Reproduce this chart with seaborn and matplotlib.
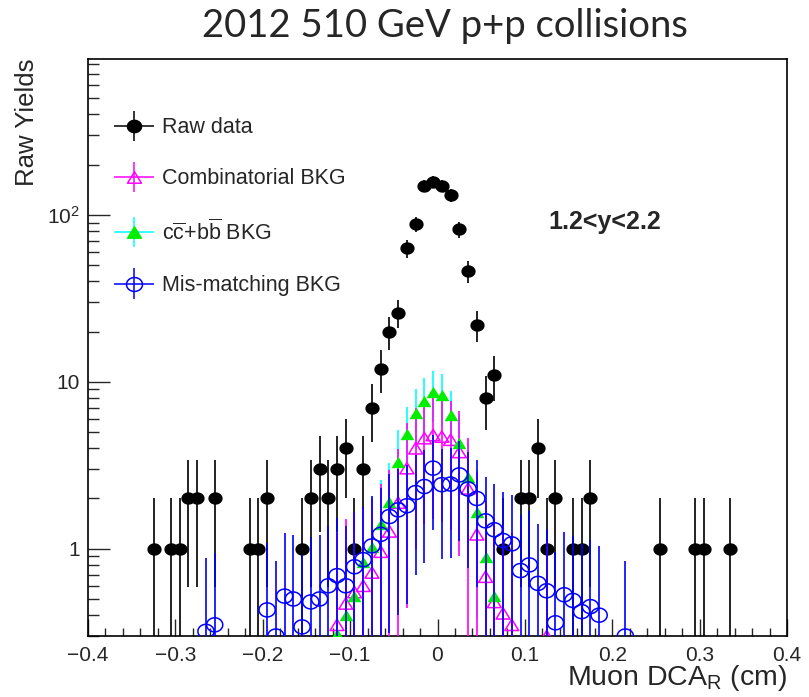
import numpy as np
import matplotlib
matplotlib.use("Agg")
import matplotlib.pyplot as plt
import seaborn as sns
from matplotlib.path import Path
from matplotlib.markers import MarkerStyle
from matplotlib.container import ErrorbarContainer
from matplotlib.legend_handler import HandlerErrorbar
from matplotlib import ticker

# ---------------- data ----------------
raw_x = [-0.325, -0.305, -0.295, -0.285, -0.275, -0.255, -0.215, -0.205, -0.195,
         -0.155, -0.145, -0.135, -0.125, -0.115, -0.105, -0.095, -0.085, -0.075,
         -0.065, -0.055, -0.045, -0.035, -0.025, -0.015, -0.005, 0.005, 0.015,
         0.025, 0.035, 0.045, 0.055, 0.065, 0.075, 0.095, 0.105, 0.115, 0.125,
         0.135, 0.155, 0.165, 0.175, 0.255, 0.295, 0.305, 0.335]
raw_y = [1, 1, 1, 2, 2, 2, 1, 1, 2,
         1, 2, 3, 2, 3, 4, 1, 3, 7,
         12, 20, 26, 63, 88, 149, 158, 149, 131,
         82, 46, 22, 8, 11, 1, 2, 2, 4, 1,
         2, 1, 1, 2, 1, 1, 1, 1]

comb_x = [-0.115, -0.105, -0.095, -0.085, -0.075, -0.065, -0.055, -0.045, -0.035,
          -0.025, -0.015, -0.005, 0.005, 0.015, 0.025, 0.035, 0.045, 0.055, 0.065,
          0.075, 0.085, 0.125]
comb_y = [0.35, 0.47, 0.55, 0.60, 0.72, 0.96, 1.27, 1.89, 3.04,
          4.0, 4.6, 4.8, 4.7, 4.5, 3.8, 2.3, 1.22, 0.68, 0.48,
          0.41, 0.35, 0.30]
comb_err = [0.89, 1.03, 1.10, 1.16, 1.27, 1.47, 1.69, 2.06, 2.6,
            3.0, 3.2, 3.3, 3.25, 3.2, 2.9, 2.3, 1.66, 1.24, 1.04,
            0.96, 0.89, 0.82]

hf_x = [-0.115, -0.105, -0.095, -0.085, -0.075, -0.065, -0.055, -0.045, -0.035,
        -0.025, -0.015, -0.005, 0.005, 0.015, 0.025, 0.035, 0.045, 0.055, 0.065]
hf_y = [0.31, 0.40, 0.52, 0.83, 1.03, 1.40, 1.9, 3.3, 4.9,
        6.5, 7.7, 8.7, 8.3, 6.3, 4.3, 2.7, 1.67, 0.89, 0.52]

mis_x = [-0.265, -0.255, -0.195, -0.185, -0.175, -0.165, -0.155, -0.145, -0.135,
         -0.125, -0.115, -0.105, -0.095, -0.085, -0.075, -0.065, -0.055, -0.045,
         -0.035, -0.025, -0.015, -0.005, 0.005, 0.015, 0.025, 0.035, 0.045,
         0.055, 0.065, 0.075, 0.085, 0.095, 0.105, 0.115, 0.125, 0.135, 0.145,
         0.155, 0.165, 0.175, 0.185, 0.215]
mis_y = [0.32, 0.35, 0.43, 0.30, 0.52, 0.50, 0.34, 0.48, 0.50,
         0.60, 0.69, 0.60, 0.78, 0.86, 1.04, 1.22, 1.56, 1.71,
         1.81, 2.17, 2.36, 3.04, 2.42, 2.44, 2.77, 2.28, 2.0,
         1.47, 1.30, 1.12, 1.07, 0.74, 0.80, 0.62, 0.56, 0.36, 0.53,
         0.49, 0.42, 0.45, 0.40, 0.30]

labels = ["Raw data", "Combinatorial BKG",
          r"$\mathrm{c\overline{c}{+}b\overline{b}}$ BKG", "Mis-matching BKG"]
title = "2012 510 GeV p+p collisions"
rap_text = "1.2<y<2.2"

# ---------------- style ----------------
sns.set_style("ticks")
plt.rcParams["font.family"] = ["Liberation Sans", "DejaVu Sans"]
plt.rcParams["mathtext.fontset"] = "custom"
plt.rcParams["mathtext.rm"] = "Liberation Sans"
plt.rcParams["mathtext.it"] = "Liberation Sans:italic"
plt.rcParams["mathtext.bf"] = "Liberation Sans:bold"

# slightly wide markers (reference is stretched horizontally)
t = np.linspace(0, 2 * np.pi, 65)
ell = MarkerStyle(Path(np.c_[1.15 * np.cos(t), np.sin(t)], closed=True))
tri = MarkerStyle(Path([(0, 0.82), (-1, -0.82), (1, -0.82), (0, 0.82)], closed=True))

fig = plt.figure(figsize=(8.09, 6.97), dpi=100)
ax = fig.add_axes([88 / 809, 1 - 636 / 697, (787 - 88) / 809, (636 - 59) / 697])
ax.set_yscale("log")

# Raw data
ax.errorbar(raw_x, raw_y, yerr=np.sqrt(raw_y), fmt="none", ecolor="#111111",
            elinewidth=1.3, capsize=0, zorder=2)
sns.scatterplot(x=raw_x, y=raw_y, ax=ax, marker=ell, s=105, color="black",
                edgecolor="black", linewidth=0, zorder=3)

# c cbar + b bbar error bars (cyan)
ax.errorbar(hf_x, hf_y, yerr=np.sqrt(hf_y), fmt="none", ecolor="cyan",
            elinewidth=1.2, capsize=0, zorder=4)
# Combinatorial
ax.errorbar(comb_x, comb_y, yerr=comb_err, fmt="none", ecolor="magenta",
            elinewidth=1.2, capsize=0, zorder=5)
sns.scatterplot(x=comb_x, y=comb_y, ax=ax, marker=tri, s=100,
                facecolors="none", edgecolors="magenta", linewidths=1.1, zorder=6)
sns.scatterplot(x=hf_x, y=hf_y, ax=ax, marker=tri, s=100, color="#00ee00",
                edgecolor="#00ee00", linewidth=0, zorder=7)
# Mis-matching
ax.errorbar(mis_x, mis_y, yerr=np.sqrt(mis_y), fmt="none", ecolor="blue",
            elinewidth=1.2, capsize=0, zorder=8)
sns.scatterplot(x=mis_x, y=mis_y, ax=ax, marker=ell, s=135,
                facecolors="none", edgecolors="blue", linewidths=1.1, zorder=9)

# legend handles (ROOT-like crosses)
h_raw = ax.errorbar([np.nan], [np.nan], xerr=[1], yerr=[1], fmt="", linestyle="none",
                    marker=ell, ms=10.2, mfc="black", mec="black", ecolor="black",
                    elinewidth=1.1)
h_comb = ax.errorbar([np.nan], [np.nan], xerr=[1], yerr=[1], fmt="", linestyle="none",
                     marker=tri, ms=10, mfc="none", mec="magenta", mew=1.1,
                     ecolor="magenta", elinewidth=1.1)
h_hf = ax.errorbar([np.nan], [np.nan], xerr=[1], yerr=[1], fmt="", linestyle="none",
                   marker=tri, ms=10, mfc="#00ee00", mec="#00ee00", ecolor="cyan",
                   elinewidth=1.1)
h_mis = ax.errorbar([np.nan], [np.nan], xerr=[1], yerr=[1], fmt="", linestyle="none",
                    marker=ell, ms=11.5, mfc="none", mec="blue", mew=1.1,
                    ecolor="blue", elinewidth=1.1)
leg = ax.legend([h_raw, h_comb, h_hf, h_mis], labels, loc="upper left",
                bbox_to_anchor=(0.038, 0.899), frameon=False, fontsize=15.5,
                handlelength=1.85, handletextpad=0.35, labelspacing=1.4,
                borderpad=0, borderaxespad=0,
                handler_map={ErrorbarContainer: HandlerErrorbar(xerr_size=0.93, yerr_size=0.7)})

# axes
ax.set_xlim(-0.4, 0.4)
ax.set_ylim(0.3, 860)
ax.xaxis.set_major_locator(ticker.MultipleLocator(0.1))
ax.xaxis.set_minor_locator(ticker.MultipleLocator(0.02))
ax.xaxis.set_major_formatter(ticker.FuncFormatter(
    lambda v, _: "0" if abs(v) < 1e-9 else f"{v:.1f}".replace("-", "\u2212")))
ax.yaxis.set_major_locator(ticker.FixedLocator([1, 10, 100]))
ax.yaxis.set_major_formatter(ticker.FixedFormatter(["1", "10", r"$10^{2}$"]))
ax.yaxis.set_minor_locator(ticker.LogLocator(base=10, subs=np.arange(2, 10)))
ax.yaxis.set_minor_formatter(ticker.NullFormatter())
ax.tick_params(axis="x", which="major", direction="in", length=12, width=1.0,
               labelsize=15, pad=7, top=False)
ax.tick_params(axis="x", which="minor", direction="in", length=6, width=1.0, top=False)
ax.tick_params(axis="y", which="major", direction="in", length=16, width=1.0,
               labelsize=15, pad=6, right=False)
ax.tick_params(axis="y", which="minor", direction="in", length=8, width=1.0, right=False)
for sp in ax.spines.values():
    sp.set_linewidth(1.2)
    sp.set_color("black")

ax.set_xlabel(r"Muon DCA$_{\mathrm{R}}$ (cm)", loc="right", fontsize=20.5, labelpad=-1)
ax.set_ylabel("Raw Yields", loc="top", fontsize=18.5)
ax.yaxis.set_label_coords(-0.07, 1.0)

ax.text(0.658, 0.7175, rap_text, transform=ax.transAxes, ha="left", va="center",
        fontsize=18, fontweight="bold")
fig.text(0.55, 0.963, title, ha="center", va="center", fontsize=27.5,
         family=["Lato", "DejaVu Sans"])

fig.savefig("out.png", dpi=100)
